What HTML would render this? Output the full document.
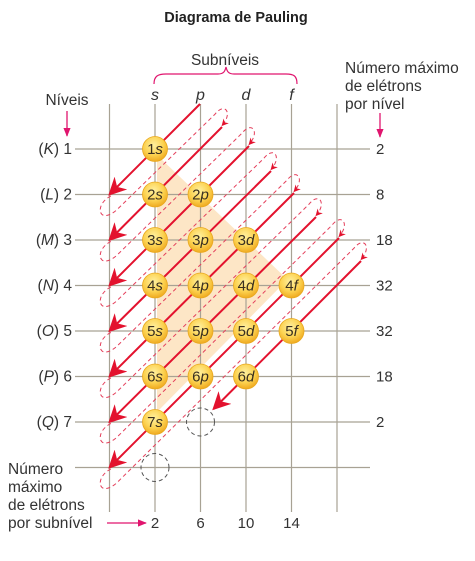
<!DOCTYPE html>
<html><head><meta charset="utf-8"><style>
html,body{margin:0;padding:0;background:#fff}
svg{display:block;font-family:"Liberation Sans",sans-serif}
</style></head><body>
<svg width="475" height="561" viewBox="0 0 475 561" xmlns="http://www.w3.org/2000/svg">
<defs>
<marker id="ahd" viewBox="0 0 10 10" refX="9" refY="5" markerWidth="7" markerHeight="7" orient="auto" markerUnits="strokeWidth"><path d="M0,0 L10,5 L0,10 L3,5 z" fill="#e3122e"/></marker>
<marker id="ahs" viewBox="0 0 10 10" refX="9" refY="5" markerWidth="9" markerHeight="9" orient="auto" markerUnits="strokeWidth"><path d="M0,0 L10,5 L0,10 L3,5 z" fill="#e3122e"/></marker>
<marker id="pa" viewBox="0 0 10 10" refX="9" refY="5" markerWidth="7" markerHeight="7" orient="auto" markerUnits="strokeWidth"><path d="M0,1 L10,5 L0,9 z" fill="#e0156e"/></marker>
<radialGradient id="ball" cx="45%" cy="35%" r="65%"><stop offset="0" stop-color="#fff0a0"/><stop offset="0.6" stop-color="#fcd250"/><stop offset="1" stop-color="#efaa20"/></radialGradient>
</defs>
<text x="236" y="22" text-anchor="middle" font-size="14.5" font-weight="bold" fill="#222">Diagrama de Pauling</text>
<text x="225" y="65" text-anchor="middle" font-size="15.5" fill="#333">Subníveis</text>
<path d="M154,84 C154,76 158,74 166,74 L218,74 C224,74 225,71 226,67 C227,71 228,74 234,74 L286,74 C294,74 297,76 297,84" fill="none" stroke="#e0156e" stroke-width="1.2"/>
<text x="67" y="105" text-anchor="middle" font-size="15.5" fill="#333">Níveis</text>
<line x1="67" y1="111" x2="67" y2="136" stroke="#e0156e" stroke-width="1.3" marker-end="url(#pa)"/>
<text font-size="15.5" fill="#333"><tspan x="345" y="73">Número máximo</tspan><tspan x="345" y="91">de elétrons</tspan><tspan x="345" y="109">por nível</tspan></text>
<line x1="380" y1="113" x2="380" y2="137" stroke="#e0156e" stroke-width="1.3" marker-end="url(#pa)"/>
<text font-size="15.5" fill="#333"><tspan x="8" y="474">Número</tspan><tspan x="8" y="492">máximo</tspan><tspan x="8" y="510">de elétrons</tspan><tspan x="8" y="528">por subnível</tspan></text>
<line x1="107" y1="523" x2="146" y2="523" stroke="#e0156e" stroke-width="1.3" marker-end="url(#pa)"/>
<g id="shade"></g><g id="grid"></g><g id="labels"></g><g id="arrows"></g><g id="balls"></g>
</svg>
<script>
const subshells = ["s","p","d","f"];
const subshellMax = [2,6,10,14];
const levelLetters = ["K","L","M","N","O","P","Q"];
const levelMax = [2,8,18,32,32,18,2];
const orbitalsPerLevel = [1,2,3,4,4,3,1];
const emptyOrbitals = [[7,1],[8,0]]; // [level n, subshell index]
const NS="http://www.w3.org/2000/svg";
const X0=155, DX=45.5, Y0=149, DY=45.5;
const xCol=c=>X0+c*DX, yRow=r=>Y0+r*DY;
function mk(tag,attrs,parent,txt){const e=document.createElementNS(NS,tag);for(const k in attrs)e.setAttribute(k,attrs[k]);if(txt!==undefined)e.textContent=txt;document.getElementById(parent).appendChild(e);return e;}
const sh=mk('polygon',{points:`${xCol(0)+2},${yRow(0)+6} ${xCol(3)-4},${yRow(3)-6} ${xCol(0)+2},${yRow(6)-10}`,fill:'#fde6c6'},'shade');


for(let c=-1;c<5;c++){const l=mk('line',{x1:xCol(c),y1:104,x2:xCol(c),y2:512,stroke:'#a8a294','stroke-width':1.2},'grid');

}
for(let r=0;r<8;r++){const l=mk('line',{x1:75,y1:yRow(r),x2:370,y2:yRow(r),stroke:'#a8a294','stroke-width':1.2},'grid');

}
subshells.forEach((s,i)=>{const t=mk('text',{x:xCol(i),y:100,'text-anchor':'middle','font-size':16,'font-style':'italic',fill:'#333'},'labels',s);


const m=mk('text',{x:xCol(i),y:528,'text-anchor':'middle','font-size':15,fill:'#333'},'labels',subshellMax[i]);

});
levelLetters.forEach((L,r)=>{const t=mk('text',{x:72,y:yRow(r)+5,'text-anchor':'end','font-size':15.5,fill:'#333'},'labels');


t.innerHTML=`(<tspan font-style="italic">${L}</tspan>) ${r+1}`;
const m=mk('text',{x:376,y:yRow(r)+5,'font-size':15,fill:'#333'},'labels',levelMax[r]);

});
const R2=Math.SQRT2;
const starts=[[200,104],[222,127],[249,146],[271,171],[294,193],[316,217],[339,238],[361,261]];
for(let d=0;d<8;d++){const [sx,sy]=starts[d];let ex,ey;
if(d<7){ex=xCol(-1);ey=yRow(d+1);}else{ex=xCol(1)+13;ey=yRow(6)-13;}
const l=mk('line',{x1:sx,y1:sy,x2:ex,y2:ey,stroke:'#e3122e','stroke-width':2,'marker-end':'url(#ahs)'},'arrows');


if(d<7){const [nx,ny]=starts[d+1];const ddx=nx-ex,ddy=ny-ey;const T=(ddx-ddy)/R2,S=(ddx+ddy)/R2;
const p=`M0,2 C-18,-4 -30,14 -6,16 L${T+4},${S-14} C${T+20},${S-16} ${T+18},${S-2} ${T+1},${S-1}`;
const dp=mk('path',{d:p,transform:`translate(${ex},${ey}) rotate(-45)`,fill:'none',stroke:'#e4405c','stroke-width':1,'stroke-dasharray':'4,3','marker-end':'url(#ahd)'},'arrows');

}}
orbitalsPerLevel.forEach((cnt,r)=>{for(let c=0;c<cnt;c++){
const g=mk('circle',{cx:xCol(c),cy:yRow(r),r:12.5,fill:'url(#ball)',stroke:'#e9a81e','stroke-width':0.8},'balls');


const t=mk('text',{x:xCol(c),y:yRow(r)+5,'text-anchor':'middle','font-size':15,fill:'#3a3020'},'balls');


t.innerHTML=`${r+1}<tspan font-style="italic">${subshells[c]}</tspan>`;}});
emptyOrbitals.forEach(([n,c])=>{const e=mk('circle',{cx:xCol(c),cy:yRow(n-1),r:14,fill:'none',stroke:'#555','stroke-width':1,'stroke-dasharray':'4,3'},'balls');

});
</script>
</body></html>
